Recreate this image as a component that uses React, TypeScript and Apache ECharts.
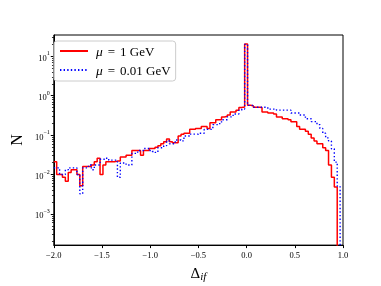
import React, { useEffect, useRef } from 'react';
import * as echarts from 'echarts';

// Histogram binning (left edge of first bin, width of each bin)
const BIN_START = -2;
const BIN_WIDTH = 0.03;

// Bin contents (100 bins from -2.0 to 1.0)
const RED_COUNTS = [
  0.021, 0.01, 0.01, 0.0085, 0.0068, 0.0112, 0.0132, 0.0132, 0.01, 0.0052,
  0.0159, 0.0159, 0.0159, 0.0175, 0.021, 0.026, 0.01, 0.0175, 0.0211, 0.0211,
  0.0211, 0.0219, 0.0219, 0.0279, 0.0279, 0.0307, 0.0307, 0.0407, 0.0407, 0.0407,
  0.0307, 0.0407, 0.0407, 0.0456, 0.0456, 0.049, 0.054, 0.0603, 0.0675, 0.08,
  0.0675, 0.0638, 0.0638, 0.0946, 0.106, 0.112, 0.112, 0.14, 0.14, 0.148,
  0.148, 0.166, 0.166, 0.148, 0.207, 0.207, 0.245, 0.245, 0.29, 0.3,
  0.325, 0.385, 0.385, 0.43, 0.5, 0.52, 20.5, 0.57, 0.56, 0.51,
  0.51, 0.5, 0.385, 0.385, 0.364, 0.364, 0.344, 0.29, 0.29, 0.26,
  0.26, 0.245, 0.22, 0.22, 0.166, 0.14, 0.14, 0.125, 0.106, 0.0845,
  0.0714, 0.0603, 0.0603, 0.048, 0.0407, 0.0175, 0.0085, 0.0048, 0, 0,
];
const BLUE_COUNTS = [
  0.0148, 0.0148, 0.01, 0.01, 0.0132, 0.0148, 0.0148, 0.0148, 0.01, 0.00325,
  0.0148, 0.0148, 0.0175, 0.0132, 0.0175, 0.0175, 0.0245, 0.0245, 0.026, 0.0232,
  0.0232, 0.0232, 0.0085, 0.0196, 0.0196, 0.0175, 0.0175, 0.0344, 0.0344, 0.0407,
  0.0407, 0.0456, 0.0456, 0.0407, 0.0385, 0.0364, 0.048, 0.048, 0.054, 0.0714,
  0.0603, 0.0603, 0.0755, 0.0755, 0.0714, 0.0946, 0.0946, 0.106, 0.106, 0.106,
  0.112, 0.112, 0.14, 0.14, 0.14, 0.185, 0.185, 0.196, 0.245, 0.245,
  0.29, 0.29, 0.344, 0.344, 0.43, 0.46, 20, 0.57, 0.57, 0.51,
  0.51, 0.51, 0.51, 0.51, 0.456, 0.456, 0.456, 0.43, 0.43, 0.43,
  0.43, 0.43, 0.364, 0.364, 0.364, 0.325, 0.325, 0.26, 0.26, 0.22,
  0.22, 0.185, 0.148, 0.112, 0.085, 0.0714, 0.045, 0.0207, 0.0051, 0,
];

const SERIES_NAMES = ['μ = 1 GeV', 'μ = 0.01 GeV'];
const LEGEND_VALUES = ['1', '0.01'];

const X_MIN = -2;
const X_MAX = 1;
const X_INTERVAL = 0.5;
// y axis is log10(N)
const Y_MIN = -3.79;
const Y_MAX = 1.54;
const Y_DECADES = [-3, -2, -1, 0, 1];
const MINOR_DECADES = [-4, -3, -2, -1, 0, 1];
const MINOR_MULT = [2, 3, 4, 5, 6, 7, 8, 9];

const FONT = 'Liberation Serif';
const EMPTY_LOG = -10; // empty bins fall below the axis

function toSteps(counts: number[]) {
  const pts: number[][] = counts.map((c, i) => [
    Number((BIN_START + i * BIN_WIDTH).toFixed(4)),
    c > 0 ? Math.log10(c) : EMPTY_LOG,
  ]);
  const last = pts[pts.length - 1][1];
  pts.push([Number((BIN_START + counts.length * BIN_WIDTH).toFixed(4)), last]);
  return pts;
}

const minorTicks: number[] = [];
MINOR_DECADES.forEach((k) =>
  MINOR_MULT.forEach((m) => {
    const v = k + Math.log10(m);
    if (v > Y_MIN && v < Y_MAX) minorTicks.push(v);
  })
);

const minus = (s: string) => s.replace('-', '\u2212');

export default function App() {
  const ref = useRef<HTMLDivElement>(null);
  useEffect(() => {
    if (!ref.current) return;
    const chart = echarts.init(ref.current, null, { renderer: 'svg' });
    chart.setOption({
      animation: false,
      textStyle: { fontFamily: FONT },
      grid: {
        left: 47,
        right: 38,
        top: 35,
        bottom: 32,
        show: true,
        borderColor: '#000',
        borderWidth: 1,
        backgroundColor: 'transparent',
      },
      legend: {
        orient: 'vertical',
        left: 54,
        top: 41,
        itemWidth: 28,
        itemHeight: 14,
        itemGap: 5,
        padding: [3, 5, 4, 5],
        backgroundColor: 'rgba(255,255,255,0.8)',
        borderColor: '#cccccc',
        borderWidth: 1,
        borderRadius: 3,
        data: SERIES_NAMES,
        itemStyle: { opacity: 0 },
        formatter: (name: string) => {
          const idx = SERIES_NAMES.indexOf(name);
          return '{i|μ}{e|=}{r|' + LEGEND_VALUES[idx] + ' GeV}';
        },
        textStyle: {
          fontFamily: FONT,
          fontSize: 13,
          color: '#000',
          rich: {
            i: { fontFamily: FONT, fontSize: 13.5, fontStyle: 'italic', color: '#000', padding: [0, 0, 0, 3] },
            e: { fontFamily: FONT, fontSize: 13, color: '#000', padding: [0, 5, 0, 5] },
            r: { fontFamily: FONT, fontSize: 13, color: '#000' },
          },
        },
      },
      xAxis: {
        type: 'value',
        min: X_MIN,
        max: X_MAX,
        interval: X_INTERVAL,
        axisLine: { show: true, onZero: false, lineStyle: { color: '#000', width: 1 } },
        axisTick: { show: true, length: 3, lineStyle: { color: '#000' } },
        axisLabel: {
          color: '#000',
          fontFamily: FONT,
          fontSize: 8.5,
          margin: 5,
          showMinLabel: true,
          showMaxLabel: true,
          formatter: (v: number) => minus(v.toFixed(1)),
        },
        splitLine: { show: false },
        name: '{d|Δ}{s|if}',
        nameLocation: 'middle',
        nameGap: 15,
        nameTextStyle: {
          color: '#000',
          rich: {
            d: { fontFamily: FONT, fontSize: 15, lineHeight: 16, verticalAlign: 'top', color: '#000' },
            s: {
              fontFamily: FONT,
              fontSize: 11,
              fontStyle: 'italic',
              lineHeight: 11,
              padding: [6, 0, 0, 0],
              verticalAlign: 'bottom',
              color: '#000',
            },
          },
        },
      },
      yAxis: [
        {
          type: 'value',
          min: Y_MIN,
          max: Y_MAX,
          axisLine: { show: true, onZero: false, lineStyle: { color: '#000', width: 1 } },
          axisTick: { show: true, length: 3, customValues: Y_DECADES, lineStyle: { color: '#000' } },
          axisLabel: {
            customValues: Y_DECADES,
            margin: 4,
            color: '#000',
            formatter: (v: number) => '{b|10}{s|' + minus(String(Math.round(v))) + '}',
            rich: {
              b: { fontFamily: FONT, fontSize: 8.5, lineHeight: 12, verticalAlign: 'bottom', color: '#000' },
              s: { fontFamily: FONT, fontSize: 6, lineHeight: 7, verticalAlign: 'top', color: '#000' },
            },
          },
          splitLine: { show: false },
          name: 'N',
          nameLocation: 'middle',
          nameGap: 25,
          nameTextStyle: { fontFamily: FONT, fontSize: 16, color: '#000' },
        },
        {
          type: 'value',
          min: Y_MIN,
          max: Y_MAX,
          position: 'left',
          axisLine: { show: false, onZero: false },
          axisTick: { show: true, length: 1.8, customValues: minorTicks, lineStyle: { color: '#000', width: 0.8 } },
          axisLabel: { show: false },
          splitLine: { show: false },
        },
      ],
      series: [
        {
          name: SERIES_NAMES[0],
          type: 'line',
          step: 'end',
          symbol: 'none',
          clip: true,
          data: toSteps(RED_COUNTS),
          itemStyle: { color: '#ff0000' },
          lineStyle: { color: '#ff0000', width: 1.5 },
        },
        {
          name: SERIES_NAMES[1],
          type: 'line',
          step: 'end',
          symbol: 'none',
          clip: true,
          data: toSteps(BLUE_COUNTS),
          itemStyle: { color: '#0000ff' },
          lineStyle: { color: '#0000ff', width: 1.4, type: [1.4, 2.2] },
        },
      ],
    });
    return () => chart.dispose();
  }, []);
  return <div ref={ref} style={{ position: 'fixed', left: 0, top: 0, width: 381, height: 286 }} />;
}
